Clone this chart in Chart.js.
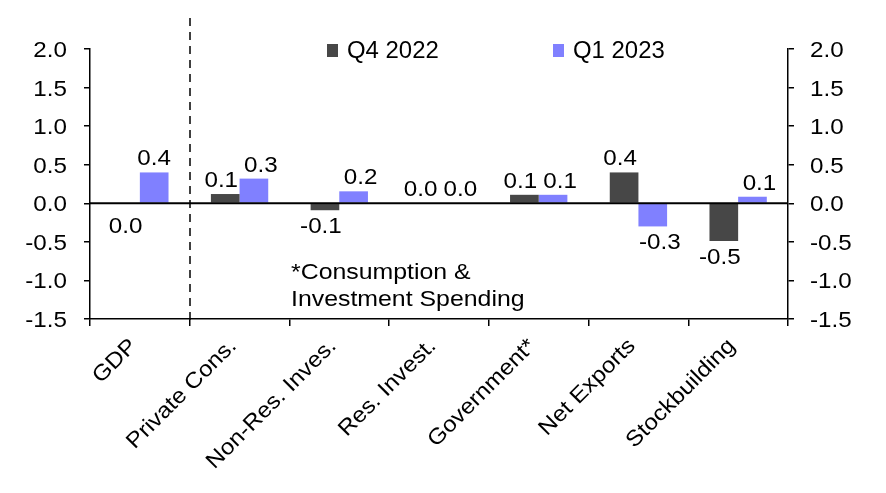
<!DOCTYPE html>
<html>
<head>
<meta charset="utf-8">
<script src="https://cdn.jsdelivr.net/npm/chart.js@4"></script>
<style>
  html, body { margin: 0; padding: 0; background: #fff; }
  #wrap { width: 886px; height: 493px; }
</style>
</head>
<body>
<div id="wrap"><canvas id="myChart"></canvas></div>
<script>
const categories = ['GDP', 'Private Cons.', 'Non-Res. Inves.', 'Res. Invest.', 'Government*', 'Net Exports', 'Stockbuilding'];
const q4Values = [0.0, 0.12, -0.09, 0.0, 0.11, 0.40, -0.49];
const q1Values = [0.4, 0.32, 0.155, 0.0, 0.11, -0.30, 0.085];
const seriesNames = ['Q4 2022', 'Q1 2023'];
const yTickValues = [2.0, 1.5, 1.0, 0.5, 0.0, -0.5, -1.0, -1.5];
const noteLines = ['*Consumption &', 'Investment Spending'];

const FAMILY = '"Liberation Sans", Arial, sans-serif';
const colors = ['#474747', '#8080ff'];

// draw text, stretched horizontally by sx (optionally rotated)
function sText(ctx, txt, x, y, align, sx, angle) {
    ctx.save();
    ctx.translate(x, y);
    if (angle) ctx.rotate(angle);
    ctx.scale(sx, 1);
    ctx.textAlign = align;
    ctx.fillText(txt, 0, 0);
    ctx.restore();
}

const extras = {
    id: 'extras',
    afterDraw(chart) {
        const ctx = chart.ctx;
        const x = chart.scales.x;
        const y = chart.scales.y;
        const area = chart.chartArea;
        const zero = y.getPixelForValue(0);
        ctx.save();

        // zero line
        ctx.strokeStyle = '#000';
        ctx.lineWidth = 2;
        ctx.beginPath();
        ctx.moveTo(area.left, zero);
        ctx.lineTo(area.right, zero);
        ctx.stroke();

        // dashed divider between GDP and its components
        const dx = Math.round((x.getPixelForValue(0) + x.getPixelForValue(1)) / 2);
        ctx.lineWidth = 1.5;
        ctx.setLineDash([8, 6]);
        ctx.beginPath();
        ctx.moveTo(dx, 18);
        ctx.lineTo(dx, area.bottom + 7);
        ctx.stroke();
        ctx.setLineDash([]);

        ctx.fillStyle = '#000';
        ctx.textBaseline = 'alphabetic';
        ctx.font = '22px ' + FAMILY;

        // y tick labels, both sides
        yTickValues.forEach((v) => {
            const py = y.getPixelForValue(v) + 8;
            sText(ctx, v.toFixed(1), area.left - 23, py, 'right', 1.1);
            sText(ctx, v.toFixed(1), area.right + 22, py, 'left', 1.1);
        });

        // rotated category labels
        categories.forEach((c, i) => {
            sText(ctx, c, x.getPixelForValue(i) - 2, area.bottom + 28, 'right', 1.1, -Math.PI / 4);
        });

        // value labels
        chart.data.datasets.forEach((ds, di) => {
            const meta = chart.getDatasetMeta(di);
            meta.data.forEach((bar, i) => {
                const v = ds.data[i];
                const txt = (Math.round(v * 10) / 10).toFixed(1);
                let lx = bar.x;
                if (i > 0) lx += di === 0 ? -4 : 7;
                let ly;
                if (v === 0 && di === 0 && i === 0) {
                    ly = zero + 30;
                } else if (v < 0) {
                    ly = Math.max(bar.y, bar.base) + 23;
                } else {
                    ly = Math.min(bar.y, bar.base) - 7;
                }
                sText(ctx, txt, lx, ly, 'center', 1.1);
            });
        });

        // note
        noteLines.forEach((line, k) => {
            sText(ctx, line, 291, 279 + k * 27, 'left', 1.13);
        });

        // legend inside the plot
        ctx.font = '23px ' + FAMILY;
        const legendX = [327, 553];
        chart.data.datasets.forEach((ds, di) => {
            ctx.fillStyle = ds.backgroundColor;
            ctx.fillRect(legendX[di], 44, 11, 13);
            ctx.fillStyle = '#000';
            sText(ctx, ds.label, legendX[di] + 20, 58, 'left', 1.04);
        });
        ctx.restore();
    }
};

const hidden = 'rgba(0,0,0,0)';
const yAxis = (pos, w) => ({
    position: pos,
    min: -1.5, max: 2.0,
    grid: { drawOnChartArea: false, tickLength: 6, color: '#000', lineWidth: 1.5 },
    border: { color: '#000', width: 1.5 },
    ticks: { stepSize: 0.5, color: hidden, font: { size: 20 } },
    afterFit(s) { s.width = w; }
});

new Chart(document.querySelector('#myChart').getContext('2d'), {
    type: 'bar',
    data: {
        labels: categories,
        datasets: [
            { label: seriesNames[0], data: q4Values, backgroundColor: colors[0] },
            { label: seriesNames[1], data: q1Values, backgroundColor: colors[1] }
        ]
    },
    options: {
        responsive: true,
        maintainAspectRatio: false,
        animation: false,
        layout: { padding: { top: 49, left: 0, right: 0, bottom: 0 } },
        datasets: { bar: { categoryPercentage: 0.575, barPercentage: 1.0 } },
        plugins: {
            legend: { display: false },
            tooltip: { enabled: false }
        },
        scales: {
            x: {
                offset: true,
                grid: { offset: true, drawOnChartArea: false, drawTicks: true, tickLength: 7, color: '#000', lineWidth: 1.5 },
                border: { color: '#000', width: 1.5 },
                ticks: { color: hidden, font: { size: 20 }, minRotation: 45, maxRotation: 45 },
                afterFit(s) { s.height = 174; }
            },
            y: yAxis('left', 90),
            y2: yAxis('right', 98)
        }
    },
    plugins: [extras]
});
</script>
</body>
</html>
